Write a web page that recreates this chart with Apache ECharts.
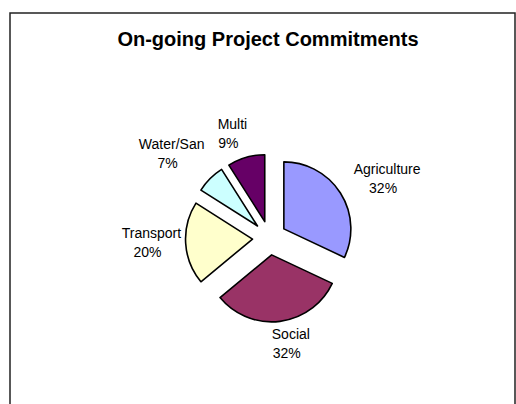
<!DOCTYPE html>
<html>
<head>
<meta charset="utf-8">
<script src="https://cdn.jsdelivr.net/npm/echarts@6/dist/echarts.min.js"></script>
<style>
  html, body { margin: 0; padding: 0; background: #fff; }
  #chart { width: 516px; height: 404px; }
</style>
</head>
<body>
<div id="chart"></div>
<script>
// Portfolio shares of on-going project commitments
const categories = ['Agriculture', 'Social', 'Transport', 'Water/San', 'Multi'];
const shares = [32, 32, 20, 7, 9];
const sliceColors = ['#9999FF', '#993366', '#FFFFCC', '#CCFFFF', '#660066'];
const chartTitle = 'On-going Project Commitments';

// Pie geometry
const pieCenter = [269.5, 238];
const pieRadius = 67;
const explode = 17;
const labelGap = 5;
// Hand adjustments of each data label, in pixels [dx, dy]
const labelNudge = [[10, 9], [7.5, -3.5], [1.5, -3], [-9, 4], [-6, 2.5]];

// Mid-angle of every slice, radians, clockwise from 12 o'clock
const total = shares.reduce((s, v) => s + v, 0);
const midAngles = [];
let acc = 0;
shares.forEach(v => { midAngles.push((acc + v / 2) / total * 2 * Math.PI); acc += v; });

// Put each label just outside its exploded slice, on the slice's bisector
function placeLabel(params) {
  const i = params.dataIndex;
  const a = midAngles[i];
  const ux = Math.sin(a), uy = -Math.cos(a);
  const w = params.labelRect.width, h = params.labelRect.height;
  const reach = pieRadius + explode + labelGap + Math.abs(ux) * w / 2 + Math.abs(uy) * h / 2;
  return {
    x: pieCenter[0] + ux * reach + labelNudge[i][0],
    y: pieCenter[1] + uy * reach + labelNudge[i][1],
    align: 'center',
    verticalAlign: 'middle'
  };
}

const sliceBorder = { borderColor: '#000', borderWidth: 1.6 };
const labelFont = 'Arial, "Liberation Sans", sans-serif';

// Exploded slices
const sliceData = categories.map((name, i) => ({
  name: name,
  value: shares[i],
  selected: true,
  itemStyle: Object.assign({ color: sliceColors[i] }, sliceBorder),
  select: { itemStyle: Object.assign({ color: sliceColors[i] }, sliceBorder) }
}));

// Same shares again, invisible, carrying the category labels
const labelData = categories.map((name, i) => ({ name: name, value: shares[i] }));

const chart = echarts.init(document.getElementById('chart'), null, { renderer: 'svg' });

chart.setOption({
  animation: false,
  backgroundColor: '#fff',
  graphic: [
    {
      type: 'rect',
      shape: { x: 10, y: 13, width: 505, height: 420 },
      style: { fill: 'none', stroke: '#222', lineWidth: 1.5 },
      silent: true
    },
    {
      type: 'text',
      x: 268,
      y: 38.5,
      style: {
        text: chartTitle,
        font: 'bold 20px ' + labelFont,
        fill: '#000',
        align: 'center',
        verticalAlign: 'middle'
      },
      silent: true
    }
  ],
  series: [
    {
      type: 'pie',
      center: pieCenter,
      radius: pieRadius,
      startAngle: 90,
      clockwise: true,
      selectedMode: 'multiple',
      selectedOffset: explode,
      emphasis: { disabled: true },
      label: { show: false },
      labelLine: { show: false },
      data: sliceData
    },
    {
      type: 'pie',
      center: pieCenter,
      radius: pieRadius,
      startAngle: 90,
      clockwise: true,
      silent: true,
      avoidLabelOverlap: false,
      percentPrecision: 0,
      emphasis: { disabled: true },
      itemStyle: { color: 'rgba(0,0,0,0)', borderWidth: 0 },
      label: {
        show: true,
        position: 'outside',
        formatter: '{b}\n{pct|{d}%}',
        fontFamily: labelFont,
        fontSize: 14,
        lineHeight: 19,
        color: '#000',
        rich: {
          pct: { fontSize: 14, lineHeight: 19, padding: [0, 8, 0, 0] }
        }
      },
      labelLine: { show: false },
      labelLayout: placeLabel,
      data: labelData
    }
  ]
});
</script>
</body>
</html>
